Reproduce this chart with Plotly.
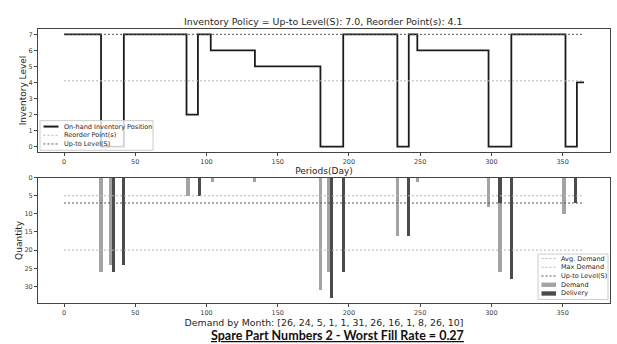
import plotly.graph_objects as go

# ---------------- data ----------------
inv_days = [0, 26, 42, 86, 94, 103, 134, 180, 196, 234, 242, 248, 298, 314, 352, 360, 365]
inv_level = [7, 0, 7, 2, 7, 6, 5, 0, 7, 0, 7, 6, 0, 7, 0, 4, 4]

demand_days = [26, 33, 87, 104, 134, 180, 186, 234, 248, 298, 306, 351]
demand_qty = [26, 24, 5, 1, 1, 31, 26, 16, 1, 8, 26, 10]

delivery_days = [35, 42, 95, 188, 196, 242, 306, 314, 359]
delivery_qty = [26, 24, 5, 33, 26, 16, 7, 28, 7]

period = [0, 365]
up_to_level = 7.0
reorder_point = 4.1
avg_demand = 5
max_demand = 20
monthly_demand = [26, 24, 5, 1, 1, 31, 26, 16, 1, 8, 26, 10]
part_number = 2
worst_fill_rate = 0.27

x_ticks = [0, 50, 100, 150, 200, 250, 300, 350]
inv_ticks = [0, 1, 2, 3, 4, 5, 6, 7]
qty_ticks = [0, 5, 10, 15, 20, 25, 30]

# ---------------- styling ----------------
W, H = 617, 344
FONT = "DejaVu Sans"
TXT = "#262626"
TICK = "#404040"
LIGHT = "#b4b4b4"
DARKDOT = "#555555"
BAR_LIGHT = "#a3a3a3"
BAR_DARK = "#4b4b4b"
LINE = "#1c1c1c"


def px(x):
    return x / W


def py(y):
    return 1 - y / H


x_lo, x_hi = -18.25, 383.25
y_top_rng = [-0.35, 7.35]
y_bot_rng = [34.65, 0]

fig = go.Figure()

# top panel
fig.add_trace(go.Scatter(x=inv_days, y=inv_level, mode="lines", line_shape="hv",
                         line=dict(color=LINE, width=1.8), name="On-hand Inventory Position",
                         xaxis="x", yaxis="y", showlegend=False))
fig.add_trace(go.Scatter(x=period, y=[reorder_point] * 2, mode="lines",
                         line=dict(color=LIGHT, width=1, dash="2px,2px"), name="Reorder Point(s)",
                         xaxis="x", yaxis="y", showlegend=False))
fig.add_trace(go.Scatter(x=period, y=[up_to_level] * 2, mode="lines",
                         line=dict(color=DARKDOT, width=1, dash="2px,2px"), name="Up-to Level(S)",
                         xaxis="x", yaxis="y", showlegend=False))

# bottom panel
fig.add_trace(go.Bar(x=demand_days, y=demand_qty, width=2.2, marker=dict(color=BAR_LIGHT, line=dict(width=0)),
                     name="Demand", xaxis="x2", yaxis="y2", showlegend=False))
fig.add_trace(go.Bar(x=delivery_days, y=delivery_qty, width=2.2, marker=dict(color=BAR_DARK, line=dict(width=0)),
                     name="Delivery", xaxis="x2", yaxis="y2", showlegend=False))
fig.add_trace(go.Scatter(x=period, y=[avg_demand] * 2, mode="lines",
                         line=dict(color=LIGHT, width=1, dash="2px,2px"), name="Avg. Demand",
                         xaxis="x2", yaxis="y2", showlegend=False))
fig.add_trace(go.Scatter(x=period, y=[max_demand] * 2, mode="lines",
                         line=dict(color=LIGHT, width=1, dash="2px,2px"), name="Max Demand",
                         xaxis="x2", yaxis="y2", showlegend=False))
fig.add_trace(go.Scatter(x=period, y=[up_to_level] * 2, mode="lines",
                         line=dict(color=DARKDOT, width=1, dash="2px,2px"), name="Up-to Level(S)",
                         xaxis="x2", yaxis="y2", showlegend=False))

axis_common = dict(showline=True, mirror=True, linecolor="#444444", linewidth=1,
                   ticks="outside", ticklen=3, tickwidth=1, tickcolor="#444444",
                   showgrid=False, zeroline=False,
                   tickfont=dict(family=FONT, size=6.5, color=TICK))

title_font = dict(family=FONT, size=9, color=TXT)
xlabel2_font = dict(family=FONT, size=9.4, color=TXT)

fig.update_layout(
    width=W, height=H,
    margin=dict(l=0, r=0, t=0, b=0),
    paper_bgcolor="white", plot_bgcolor="white",
    barmode="overlay", bargap=0,
    showlegend=False,
    xaxis=dict(domain=[px(38), px(610)], range=[x_lo, x_hi], anchor="y",
               tickvals=x_ticks, ticktext=[str(t) for t in x_ticks],
               title=dict(text="Periods(Day)", font=title_font, standoff=1), **axis_common),
    yaxis=dict(domain=[py(150), py(25)], range=y_top_rng, anchor="x",
               tickvals=inv_ticks, ticktext=[str(t) for t in inv_ticks],
               title=dict(text="Inventory Level", font=title_font, standoff=0), **axis_common),
    xaxis2=dict(domain=[px(38), px(610)], range=[x_lo, x_hi], anchor="y2",
                tickvals=x_ticks, ticktext=[str(t) for t in x_ticks],
                title=dict(text="Demand by Month: [" + ", ".join(str(v) for v in monthly_demand) + "]",
                           font=xlabel2_font, standoff=1), **axis_common),
    yaxis2=dict(domain=[py(302.7), py(175.7)], range=y_bot_rng, anchor="x2",
                tickvals=qty_ticks, ticktext=[str(t) for t in qty_ticks],
                title=dict(text="Quantity", font=title_font, standoff=0), **axis_common),
)

annotations = []
shapes = []

# top title
annotations.append(dict(text="Inventory Policy = Up-to Level(S): %.1f, Reorder Point(s): %.1f" % (up_to_level, reorder_point),
                        x=px(324), y=py(17.5), xref="paper", yref="paper", showarrow=False,
                        xanchor="center", yanchor="middle", font=dict(family=FONT, size=9.4, color=TXT)))
# bottom title
annotations.append(dict(text="<b><u>Spare Part Numbers %d - Worst Fill Rate = %.2f</u></b>" % (part_number, worst_fill_rate),
                        x=px(337), y=py(335), xref="paper", yref="paper", showarrow=False,
                        xanchor="center", yanchor="middle", font=dict(family="Lato", size=12.5, color="#111111")))


def legend_box(x0, y0, x1, y1):
    shapes.append(dict(type="rect", xref="paper", yref="paper", x0=px(x0), x1=px(x1), y0=py(y1), y1=py(y0),
                       fillcolor="rgba(255,255,255,0.8)", line=dict(color="#cccccc", width=1), layer="above"))


def legend_line(x0, x1, y, color, width, dash):
    shapes.append(dict(type="line", xref="paper", yref="paper", x0=px(x0), x1=px(x1), y0=py(y), y1=py(y),
                       line=dict(color=color, width=width, dash=dash), layer="above"))


def legend_patch(x0, x1, y, color):
    shapes.append(dict(type="rect", xref="paper", yref="paper", x0=px(x0), x1=px(x1), y0=py(y + 2.2), y1=py(y - 2.2),
                       fillcolor=color, line=dict(width=0), layer="above"))


def legend_text(x, y, text):
    annotations.append(dict(text=text, x=px(x), y=py(y), xref="paper", yref="paper", showarrow=False,
                            xanchor="left", yanchor="middle", font=dict(family=FONT, size=6.5, color=TXT)))


# top legend
legend_box(40, 118, 153, 148)
top_items = [("On-hand Inventory Position", LINE, 2, "solid"),
             ("Reorder Point(s)", LIGHT, 1, "2px,2px"),
             ("Up-to Level(S)", DARKDOT, 1, "2px,2px")]
for i, (lbl, c, w, d) in enumerate(top_items):
    yy = 124 + i * 8.8
    legend_line(43.5, 58.5, yy, c, w, d)
    legend_text(62, yy, lbl)

# bottom legend
legend_box(538, 253, 608, 299)
bot_items = [("Avg. Demand", LIGHT, "line"), ("Max Demand", LIGHT, "line"), ("Up-to Level(S)", DARKDOT, "line"),
             ("Demand", BAR_LIGHT, "patch"), ("Delivery", BAR_DARK, "patch")]
for i, (lbl, c, kind) in enumerate(bot_items):
    yy = 257.5 + i * 8.85
    if kind == "line":
        legend_line(541.5, 556, yy, c, 1, "2px,2px")
    else:
        legend_patch(541.5, 556, yy, c)
    legend_text(559, yy, lbl)

fig.update_layout(annotations=annotations, shapes=shapes)

fig.write_html("out.html")
